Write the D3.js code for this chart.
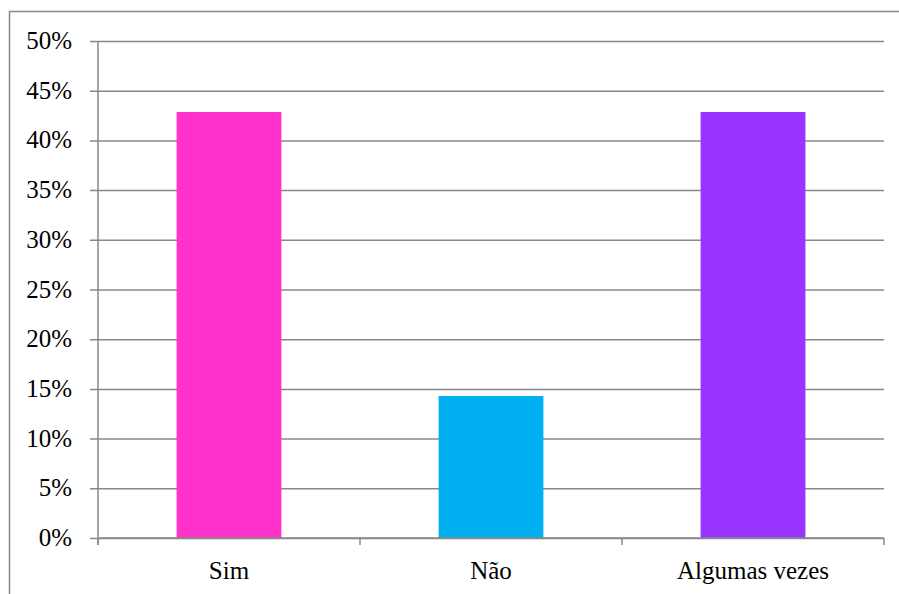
<!DOCTYPE html>
<html>
<head>
<meta charset="utf-8">
<script src="https://cdn.jsdelivr.net/npm/d3@7"></script>
</head>
<body style="margin:0">
<svg id="chart" width="899" height="594"></svg>
<script>
// Answers and their share of responses
const categories = ["Sim", "Não", "Algumas vezes"];
const values = [0.4286, 0.1429, 0.4286];
const colors = ["#FF33CC", "#00B0F0", "#9933FF"];
const yTickValues = [0, 0.05, 0.10, 0.15, 0.20, 0.25, 0.30, 0.35, 0.40, 0.45, 0.50];
const yTickLabels = ["0%", "5%", "10%", "15%", "20%", "25%", "30%", "35%", "40%", "45%", "50%"];

const svg = d3.select("#chart");
const plot = { left: 98, right: 884, top: 41, bottom: 538 };
const gridColor = "#888888";
const fontName = "Liberation Serif";

// Outer chart frame
svg.append("rect")
  .attr("x", 9.5).attr("y", 11.5)
  .attr("width", 920).attr("height", 620)
  .attr("fill", "none")
  .attr("stroke", gridColor)
  .attr("stroke-width", 1.5);

const x = d3.scaleBand().domain(categories).range([plot.left, plot.right]).paddingInner(0.6).paddingOuter(0.3);
const y = d3.scaleLinear().domain([0, 0.5]).range([plot.bottom, plot.top]);

// Horizontal gridlines (drawn by the axis, labels added separately)
const yAxis = d3.axisLeft(y)
  .tickValues(yTickValues)
  .tickFormat("")
  .tickSize(-(plot.right - plot.left))
  .tickSizeOuter(0);

const gy = svg.append("g").attr("transform", `translate(${plot.left},0)`).call(yAxis);
gy.select(".domain").remove();
gy.selectAll(".tick text").remove();
gy.selectAll(".tick line")
  .attr("x1", -8)
  .attr("stroke", gridColor)
  .attr("stroke-width", 1.5);

// Percentage labels
svg.append("g").selectAll("text")
  .data(yTickValues)
  .join("text")
  .attr("x", 72)
  .attr("y", d => y(d) + 8)
  .attr("text-anchor", "end")
  .attr("font-family", fontName)
  .attr("font-size", 25)
  .attr("fill", "#000")
  .text((d, i) => yTickLabels[i]);

// Vertical axis line
svg.append("line")
  .attr("x1", plot.left).attr("x2", plot.left)
  .attr("y1", plot.top).attr("y2", plot.bottom + 7)
  .attr("stroke", gridColor).attr("stroke-width", 1.5);

// Bars
svg.append("g").selectAll("rect")
  .data(categories)
  .join("rect")
  .attr("x", d => x(d))
  .attr("width", x.bandwidth())
  .attr("y", (d, i) => y(values[i]))
  .attr("height", (d, i) => y(0) - y(values[i]))
  .attr("fill", (d, i) => colors[i]);

// Category axis along the bottom
const step = (plot.right - plot.left) / categories.length;
const boundaries = d3.range(categories.length + 1).map(i => plot.left + i * step);
svg.append("line")
  .attr("x1", plot.left).attr("x2", plot.right)
  .attr("y1", plot.bottom).attr("y2", plot.bottom)
  .attr("stroke", gridColor).attr("stroke-width", 1.5);
svg.append("g").selectAll("line")
  .data(boundaries)
  .join("line")
  .attr("x1", d => d).attr("x2", d => d)
  .attr("y1", plot.bottom).attr("y2", plot.bottom + 7)
  .attr("stroke", gridColor).attr("stroke-width", 1.5);

svg.append("g").selectAll("text")
  .data(categories)
  .join("text")
  .attr("x", d => x(d) + x.bandwidth() / 2)
  .attr("y", 579)
  .attr("text-anchor", "middle")
  .attr("font-family", fontName)
  .attr("font-size", 25)
  .attr("fill", "#000")
  .text(d => d);
</script>
</body>
</html>
